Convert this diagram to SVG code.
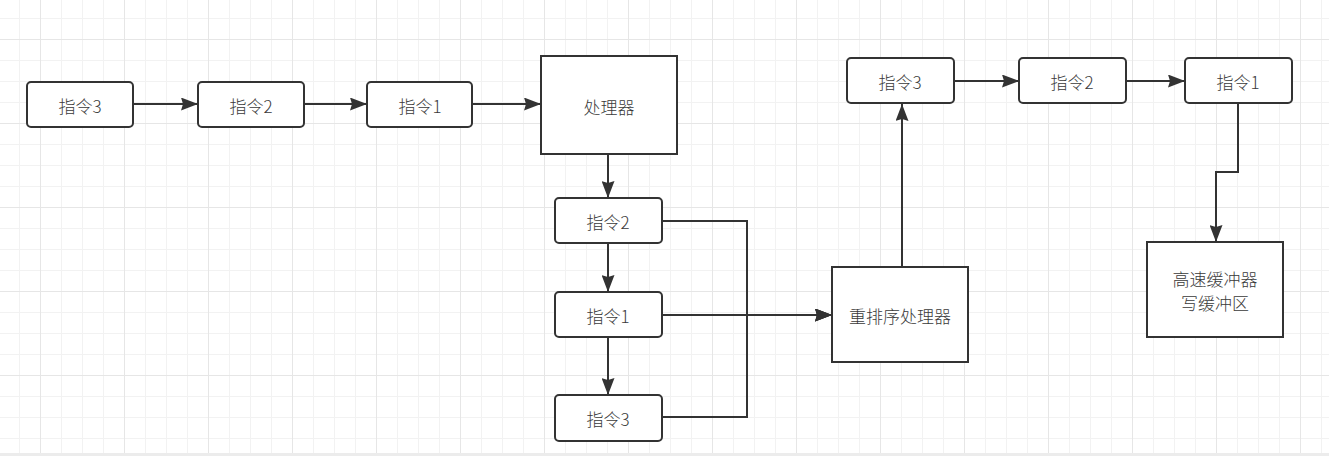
<svg xmlns="http://www.w3.org/2000/svg" width="1329" height="456" viewBox="0 0 1329 456">
<style>
.box{fill:#ffffff;stroke:#333333;stroke-width:2}
.lbl{font-family:"Noto Sans CJK SC","Liberation Sans",sans-serif;font-size:17px;font-weight:300;fill:#3a3a3a;text-anchor:middle;dominant-baseline:central}
.edge{fill:none;stroke:#333333;stroke-width:2;marker-end:url(#arr)}
</style>
<defs>
<pattern id="grid" x="40" y="39" width="84" height="84" patternUnits="userSpaceOnUse">
<rect x="21" y="0" width="1" height="84" fill="#f2f2f2"/>
<rect x="42" y="0" width="1" height="84" fill="#f2f2f2"/>
<rect x="63" y="0" width="1" height="84" fill="#f2f2f2"/>
<rect x="0" y="21" width="84" height="1" fill="#f2f2f2"/>
<rect x="0" y="42" width="84" height="1" fill="#f2f2f2"/>
<rect x="0" y="63" width="84" height="1" fill="#f2f2f2"/>
<rect x="0" y="0" width="1" height="84" fill="#e6e6e6"/>
<rect x="0" y="0" width="84" height="1" fill="#e6e6e6"/>
</pattern>
<marker id="arr" viewBox="0 0 18 13" refX="17" refY="6.5" markerWidth="18" markerHeight="13" markerUnits="userSpaceOnUse" orient="auto">
<path d="M0,0 L17,6.5 L0,13 L2,6.5 Z" fill="#333333"/>
</marker>
</defs>
<rect x="0" y="0" width="1329" height="456" fill="#ffffff"/>
<rect x="0" y="0" width="1329" height="453" fill="url(#grid)"/>
<rect x="0" y="453" width="1329" height="3" fill="#ececec"/>
<g id="connectors">
<path class="edge" d="M133,104 H198"/>
<path class="edge" d="M304,104 H367"/>
<path class="edge" d="M472,104 H541"/>
<path class="edge" d="M608,154 V198"/>
<path class="edge" d="M608,243 V292"/>
<path class="edge" d="M608,337 V395"/>
<path class="edge" d="M662,221 H747 V315 H832"/>
<path class="edge" d="M662,315 H832"/>
<path class="edge" d="M662,417 H747 V315 H832"/>
<path class="edge" d="M902,267 V104"/>
<path class="edge" d="M954,81 H1019"/>
<path class="edge" d="M1126,81 H1185"/>
<path class="edge" d="M1238,103 V172 H1216 V242"/>
</g>
<g id="n1"><rect class="box" x="27" y="82" width="106" height="45" rx="4"/><text class="lbl" x="80" y="105">指令3</text></g>
<g id="n2"><rect class="box" x="198" y="82" width="106" height="45" rx="4"/><text class="lbl" x="251" y="105">指令2</text></g>
<g id="n3"><rect class="box" x="367" y="82" width="105" height="45" rx="4"/><text class="lbl" x="420" y="105">指令1</text></g>
<g id="n4"><rect class="box" x="541" y="56" width="136" height="98"/><text class="lbl" x="609" y="106">处理器</text></g>
<g id="n5"><rect class="box" x="555" y="198" width="107" height="45" rx="4"/><text class="lbl" x="608" y="221">指令2</text></g>
<g id="n6"><rect class="box" x="555" y="292" width="107" height="45" rx="4"/><text class="lbl" x="608" y="315">指令1</text></g>
<g id="n7"><rect class="box" x="555" y="395" width="107" height="46" rx="4"/><text class="lbl" x="608" y="418">指令3</text></g>
<g id="n8"><rect class="box" x="832" y="267" width="136" height="95"/><text class="lbl" x="900" y="315">重排序处理器</text></g>
<g id="n9"><rect class="box" x="847" y="58" width="107" height="45" rx="4"/><text class="lbl" x="900" y="81">指令3</text></g>
<g id="n10"><rect class="box" x="1019" y="58" width="107" height="45" rx="4"/><text class="lbl" x="1072" y="81">指令2</text></g>
<g id="n11"><rect class="box" x="1185" y="58" width="107" height="45" rx="4"/><text class="lbl" x="1238" y="81">指令1</text></g>
<g id="n12"><rect class="box" x="1147" y="242" width="136" height="95"/><text class="lbl" x="1215" y="278">高速缓冲器</text><text class="lbl" x="1215" y="302">写缓冲区</text></g>
</svg>
